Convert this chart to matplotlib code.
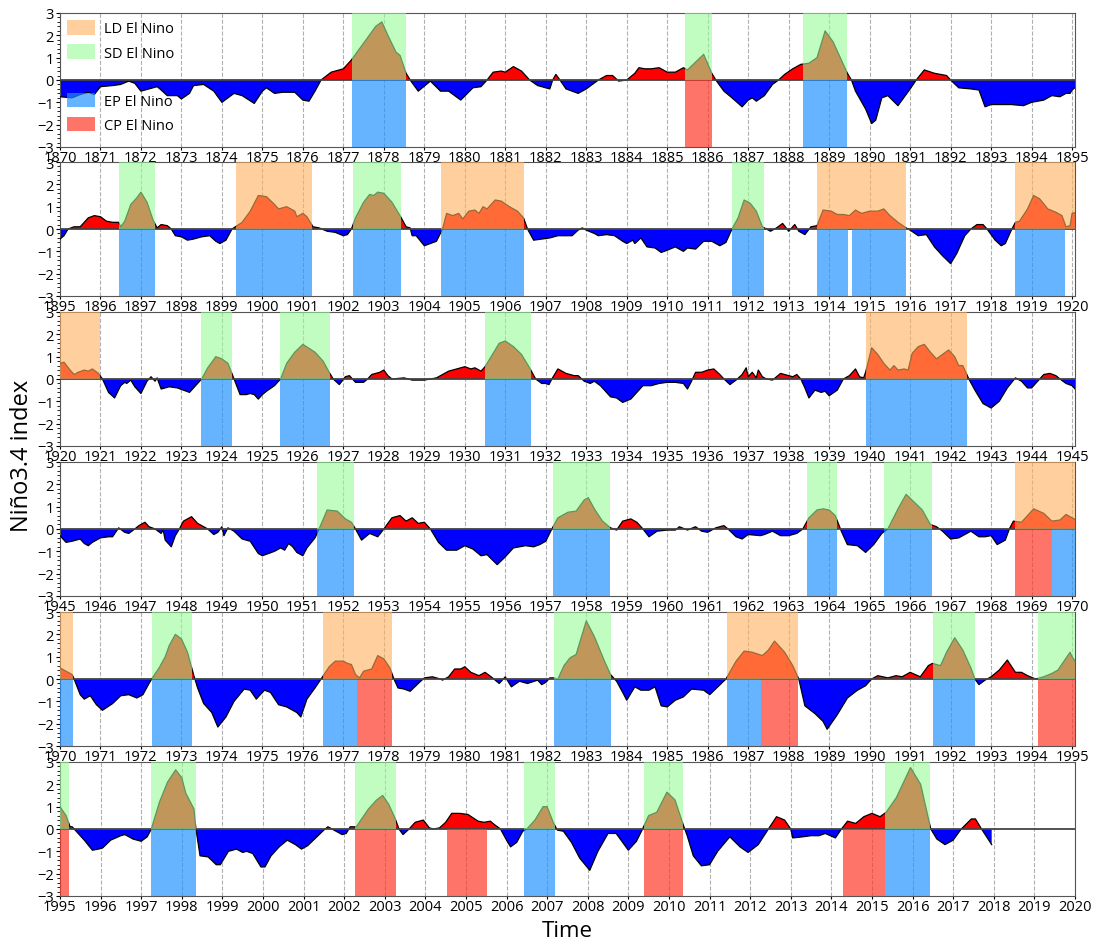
import numpy as np
import matplotlib.pyplot as plt
from matplotlib.patches import Patch
from matplotlib.ticker import MultipleLocator

plt.rcParams['font.family'] = ['Open Sans', 'DejaVu Sans']

# Niño3.4 index, (year, value) pairs, one list per 25-year row
nino_1870 = [
    (1870.0, -0.75), (1870.3, -0.8), (1870.5, -0.65), (1870.7, -0.55), (1870.85, -0.65),
    (1871.0, -0.3), (1871.3, -0.25), (1871.5, -0.2), (1871.7, -0.05), (1871.85, -0.15),
    (1872.0, -0.5), (1872.2, -0.4), (1872.4, -0.3), (1872.5, -0.45), (1872.65, -0.7),
    (1872.9, -0.7), (1873.0, -0.85), (1873.2, -0.6), (1873.3, -0.25), (1873.55, -0.2),
    (1873.8, -0.5), (1874.0, -1.0), (1874.3, -0.6), (1874.5, -0.7), (1874.8, -1.05),
    (1875.0, -0.5), (1875.1, -0.35), (1875.3, -0.6), (1875.5, -0.55), (1875.8, -0.55),
    (1876.0, -0.9), (1876.15, -0.95), (1876.3, -0.5), (1876.45, 0.0), (1876.7, 0.35),
    (1877.0, 0.5), (1877.2, 0.9), (1877.4, 1.4), (1877.6, 1.9), (1877.8, 2.4),
    (1877.95, 2.6), (1878.1, 2.0), (1878.3, 1.25), (1878.4, 1.1), (1878.55, 0.3),
    (1878.65, 0.0), (1878.85, -0.5), (1879.05, -0.2), (1879.15, -0.05), (1879.4, -0.5),
    (1879.6, -0.5), (1879.9, -0.9), (1880.2, -0.35), (1880.4, -0.3), (1880.55, 0.0),
    (1880.7, 0.35), (1880.9, 0.4), (1881.0, 0.35), (1881.2, 0.6), (1881.4, 0.4),
    (1881.6, 0.0), (1881.8, -0.25), (1882.0, -0.35), (1882.1, -0.4), (1882.17, 0.0),
    (1882.25, 0.25), (1882.35, 0.0), (1882.5, -0.4), (1882.8, -0.6), (1883.0, -0.4),
    (1883.3, 0.0), (1883.5, 0.2), (1883.65, 0.2), (1883.8, -0.05), (1884.0, 0.0),
    (1884.2, 0.3), (1884.3, 0.55), (1884.45, 0.5), (1884.6, 0.5), (1884.8, 0.55),
    (1885.0, 0.35), (1885.2, 0.35), (1885.4, 0.55), (1885.5, 0.45), (1885.7, 0.8),
    (1885.9, 1.15), (1886.1, 0.3), (1886.2, 0.0), (1886.4, -0.5), (1886.6, -0.8),
    (1886.85, -1.2), (1887.0, -0.9), (1887.1, -0.8), (1887.2, -0.95), (1887.4, -0.7),
    (1887.6, -0.2), (1887.75, 0.0), (1887.9, 0.25), (1888.1, 0.5), (1888.3, 0.7),
    (1888.5, 0.75), (1888.7, 1.0), (1888.9, 2.2), (1889.1, 1.7), (1889.3, 0.9),
    (1889.45, 0.3), (1889.55, 0.0), (1889.65, -0.5), (1889.9, -1.3), (1890.05, -1.95),
    (1890.15, -1.8), (1890.3, -0.8), (1890.45, -0.7), (1890.7, -1.15), (1891.0, -0.4),
    (1891.15, 0.0), (1891.35, 0.45), (1891.6, 0.3), (1891.9, 0.2), (1892.0, 0.0),
    (1892.2, -0.35), (1892.5, -0.4), (1892.7, -0.45), (1892.85, -1.2), (1893.0, -1.1),
    (1893.3, -1.1), (1893.5, -1.1), (1893.8, -1.15), (1894.0, -1.0), (1894.3, -0.9),
    (1894.5, -0.7), (1894.7, -0.75), (1894.85, -0.6), (1894.95, -0.6),
]
nino_1895 = [
    (1895.0, -0.45), (1895.1, -0.3), (1895.2, 0.0), (1895.35, 0.1), (1895.5, 0.1),
    (1895.7, 0.5), (1895.85, 0.6), (1896.0, 0.55), (1896.15, 0.35), (1896.3, 0.3),
    (1896.45, 0.3), (1896.5, 0.1), (1896.6, 0.35), (1896.75, 1.1), (1896.9, 1.4),
    (1897.0, 1.65), (1897.15, 1.2), (1897.3, 0.4), (1897.4, 0.05), (1897.5, 0.2),
    (1897.65, 0.15), (1897.75, 0.0), (1897.85, -0.3), (1898.0, -0.35), (1898.15, -0.5),
    (1898.3, -0.45), (1898.5, -0.35), (1898.7, -0.3), (1898.85, -0.55), (1898.95, -0.65),
    (1899.1, -0.5), (1899.25, 0.0), (1899.5, 0.3), (1899.7, 0.8), (1899.9, 1.5),
    (1900.1, 1.45), (1900.3, 1.1), (1900.4, 0.9), (1900.6, 1.0), (1900.8, 0.8),
    (1900.85, 0.55), (1901.0, 0.7), (1901.1, 0.55), (1901.25, 0.1), (1901.4, 0.05),
    (1901.6, -0.1), (1901.8, -0.15), (1902.0, -0.3), (1902.1, -0.25), (1902.2, 0.0),
    (1902.3, 0.5), (1902.5, 1.2), (1902.65, 1.55), (1902.75, 1.5), (1902.85, 1.65),
    (1903.0, 1.6), (1903.2, 1.2), (1903.4, 0.6), (1903.55, 0.1), (1903.65, 0.05),
    (1903.7, -0.3), (1903.8, -0.3), (1904.0, -0.75), (1904.15, -0.65), (1904.3, -0.55),
    (1904.45, 0.0), (1904.55, 0.7), (1904.7, 0.6), (1904.85, 0.7), (1904.95, 0.45),
    (1905.1, 0.8), (1905.25, 0.85), (1905.35, 0.7), (1905.45, 1.0), (1905.55, 0.9),
    (1905.65, 1.1), (1905.75, 1.3), (1905.9, 1.25), (1906.1, 1.0), (1906.3, 0.8),
    (1906.45, 0.5), (1906.55, 0.0), (1906.7, -0.5), (1906.9, -0.45), (1907.1, -0.4),
    (1907.3, -0.3), (1907.5, -0.3), (1907.65, -0.3), (1907.8, -0.05), (1907.9, 0.05),
    (1908.0, -0.05), (1908.2, -0.2), (1908.3, -0.3), (1908.5, -0.25), (1908.7, -0.3),
    (1908.9, -0.55), (1909.0, -0.65), (1909.15, -0.5), (1909.2, -0.65), (1909.35, -0.4),
    (1909.5, -0.8), (1909.7, -0.85), (1909.85, -1.05), (1910.0, -0.95), (1910.2, -0.8),
    (1910.4, -1.0), (1910.5, -0.85), (1910.7, -0.9), (1910.9, -0.55), (1911.1, -0.55),
    (1911.3, -0.75), (1911.45, -0.6), (1911.6, 0.0), (1911.75, 0.5), (1911.9, 1.3),
    (1912.05, 1.15), (1912.2, 0.8), (1912.35, 0.1), (1912.45, 0.0), (1912.55, -0.1),
    (1912.7, 0.05), (1912.85, 0.25), (1913.0, -0.1), (1913.15, 0.2), (1913.25, -0.1),
    (1913.4, -0.25), (1913.55, 0.1), (1913.7, 0.15), (1913.85, 0.85), (1914.05, 0.8),
    (1914.2, 0.65), (1914.35, 0.65), (1914.5, 0.6), (1914.65, 0.85), (1914.8, 0.7),
    (1915.0, 0.8), (1915.2, 0.8), (1915.35, 0.9), (1915.5, 0.6), (1915.7, 0.3),
    (1915.9, 0.05), (1916.0, -0.05), (1916.2, -0.3), (1916.4, -0.25), (1916.6, -0.8),
    (1916.8, -1.2), (1917.0, -1.55), (1917.15, -1.1), (1917.35, -0.3), (1917.5, 0.0),
    (1917.65, 0.2), (1917.8, 0.2), (1917.9, 0.0), (1918.1, -0.5), (1918.25, -0.75),
    (1918.35, -0.65), (1918.5, -0.05), (1918.6, 0.3), (1918.7, 0.35), (1918.9, 0.9),
    (1919.05, 1.5), (1919.2, 1.35), (1919.4, 0.9), (1919.6, 0.75), (1919.75, 0.6),
    (1919.85, 0.1), (1919.95, 0.15),
]
nino_1920 = [
    (1920.0, 0.7), (1920.1, 0.75), (1920.25, 0.4), (1920.35, 0.2), (1920.45, 0.3),
    (1920.6, 0.4), (1920.7, 0.35), (1920.8, 0.45), (1920.95, 0.25), (1921.05, 0.0),
    (1921.2, -0.6), (1921.35, -0.85), (1921.5, -0.3), (1921.6, -0.15), (1921.65, -0.2),
    (1921.75, -0.05), (1921.85, -0.35), (1922.0, -0.65), (1922.15, -0.1), (1922.25, 0.1),
    (1922.35, -0.1), (1922.4, 0.05), (1922.5, -0.45), (1922.7, -0.35), (1922.9, -0.4),
    (1923.05, -0.5), (1923.2, -0.6), (1923.35, -0.3), (1923.5, 0.0), (1923.65, 0.5),
    (1923.85, 1.0), (1924.0, 0.9), (1924.15, 0.7), (1924.3, 0.0), (1924.45, -0.7),
    (1924.6, -0.7), (1924.7, -0.65), (1924.8, -0.7), (1924.9, -0.9), (1925.0, -0.7),
    (1925.1, -0.55), (1925.3, -0.3), (1925.45, 0.0), (1925.6, 0.7), (1925.8, 1.2),
    (1926.0, 1.55), (1926.3, 1.2), (1926.5, 0.8), (1926.65, 0.3), (1926.75, 0.0),
    (1926.9, -0.25), (1927.05, 0.1), (1927.15, 0.15), (1927.3, -0.15), (1927.5, -0.15),
    (1927.6, 0.0), (1927.7, 0.2), (1927.9, 0.3), (1928.0, 0.4), (1928.1, 0.15),
    (1928.2, 0.0), (1928.5, 0.05), (1928.7, -0.05), (1929.0, -0.05), (1929.3, 0.05),
    (1929.6, 0.35), (1929.9, 0.5), (1930.0, 0.55), (1930.15, 0.45), (1930.25, 0.5),
    (1930.4, 0.35), (1930.5, 0.55), (1930.65, 1.0), (1930.85, 1.6), (1931.0, 1.7),
    (1931.2, 1.45), (1931.4, 1.1), (1931.6, 0.5), (1931.75, 0.0), (1931.9, -0.2),
    (1932.0, -0.2), (1932.08, -0.25), (1932.15, 0.0), (1932.3, 0.45), (1932.5, 0.25),
    (1932.7, 0.15), (1932.8, 0.15), (1932.95, -0.1), (1933.1, -0.2), (1933.2, -0.1),
    (1933.35, -0.3), (1933.5, -0.6), (1933.6, -0.8), (1933.75, -0.85), (1933.9, -1.05),
    (1934.1, -0.9), (1934.25, -0.6), (1934.4, -0.3), (1934.6, -0.3), (1934.8, -0.2),
    (1935.0, -0.15), (1935.2, -0.15), (1935.4, -0.2), (1935.5, -0.45), (1935.6, -0.1),
    (1935.7, 0.3), (1935.85, 0.3), (1936.0, 0.4), (1936.15, 0.45), (1936.3, 0.2),
    (1936.4, 0.0), (1936.55, -0.25), (1936.7, -0.05), (1936.85, 0.2), (1936.95, 0.5),
    (1937.0, 0.1), (1937.05, 0.2), (1937.1, 0.3), (1937.2, 0.05), (1937.25, 0.4),
    (1937.35, 0.1), (1937.45, 0.0), (1937.6, -0.05), (1937.7, 0.1), (1937.8, 0.25),
    (1937.9, 0.2), (1938.1, 0.1), (1938.2, 0.2), (1938.3, 0.0), (1938.4, -0.4),
    (1938.5, -0.85), (1938.65, -0.5), (1938.8, -0.6), (1938.9, -0.55), (1939.0, -0.75),
    (1939.2, -0.5), (1939.35, 0.0), (1939.5, 0.15), (1939.65, 0.45), (1939.75, 0.1),
    (1939.85, 0.05), (1939.9, 0.3), (1940.05, 1.4), (1940.2, 1.1), (1940.35, 0.7),
    (1940.5, 0.4), (1940.6, 0.6), (1940.7, 0.4), (1940.85, 0.45), (1940.95, 0.4),
    (1941.05, 1.15), (1941.2, 1.45), (1941.35, 1.55), (1941.5, 1.2), (1941.65, 0.9),
    (1941.8, 1.1), (1941.95, 1.3), (1942.1, 1.0), (1942.2, 0.6), (1942.3, 0.6),
    (1942.45, 0.0), (1942.6, -0.5), (1942.8, -1.1), (1943.0, -1.3), (1943.2, -1.0),
    (1943.4, -0.4), (1943.6, 0.05), (1943.75, -0.1), (1943.9, -0.4), (1944.0, -0.4),
    (1944.2, 0.0), (1944.3, 0.2), (1944.45, 0.25), (1944.6, 0.15), (1944.7, 0.0),
    (1944.85, -0.2),
]
nino_1945 = [
    (1945.0, -0.3), (1945.15, -0.6), (1945.3, -0.55), (1945.5, -0.45), (1945.6, -0.65),
    (1945.7, -0.75), (1945.8, -0.6), (1946.0, -0.4), (1946.2, -0.35), (1946.3, -0.35),
    (1946.45, 0.05), (1946.6, -0.15), (1946.7, -0.2), (1946.85, 0.0), (1946.95, 0.15),
    (1947.1, 0.3), (1947.2, 0.1), (1947.35, 0.0), (1947.5, -0.2), (1947.55, -0.05),
    (1947.6, -0.5), (1947.75, -0.8), (1947.85, -0.3), (1947.95, 0.0), (1948.05, 0.35),
    (1948.25, 0.55), (1948.4, 0.25), (1948.55, 0.1), (1948.65, 0.0), (1948.8, -0.25),
    (1948.9, -0.15), (1949.0, 0.1), (1949.05, -0.3), (1949.15, 0.05), (1949.3, -0.1),
    (1949.5, -0.45), (1949.7, -0.55), (1949.9, -1.1), (1950.0, -1.2), (1950.3, -1.0),
    (1950.45, -0.85), (1950.55, -0.95), (1950.65, -0.65), (1950.75, -0.8), (1950.85, -1.05),
    (1951.0, -1.2), (1951.1, -0.85), (1951.3, -0.4), (1951.4, 0.0), (1951.6, 0.85),
    (1951.85, 0.8), (1952.05, 0.45), (1952.2, 0.3), (1952.3, 0.0), (1952.45, -0.5),
    (1952.65, -0.2), (1952.85, -0.35), (1953.0, 0.0), (1953.2, 0.5), (1953.4, 0.6),
    (1953.55, 0.35), (1953.7, 0.5), (1953.85, 0.25), (1954.0, 0.3), (1954.15, 0.0),
    (1954.35, -0.6), (1954.55, -0.95), (1954.8, -0.95), (1955.0, -0.75), (1955.2, -0.9),
    (1955.4, -1.2), (1955.55, -1.15), (1955.8, -1.6), (1956.0, -1.25), (1956.2, -0.85),
    (1956.5, -0.75), (1956.7, -0.8), (1956.85, -0.7), (1957.0, -0.55), (1957.15, 0.0),
    (1957.3, 0.5), (1957.55, 0.75), (1957.75, 0.8), (1957.95, 1.3), (1958.05, 1.4),
    (1958.2, 0.9), (1958.4, 0.35), (1958.6, 0.05), (1958.75, -0.05), (1958.9, 0.35),
    (1959.1, 0.45), (1959.25, 0.3), (1959.4, 0.0), (1959.55, -0.35), (1959.75, -0.1),
    (1960.0, -0.05), (1960.2, -0.05), (1960.3, 0.1), (1960.5, -0.05), (1960.7, 0.1),
    (1960.85, -0.1), (1961.0, -0.15), (1961.2, 0.05), (1961.4, 0.15), (1961.5, 0.0),
    (1961.7, -0.35), (1961.85, -0.45), (1962.0, -0.25), (1962.3, -0.3), (1962.4, -0.25),
    (1962.6, -0.1), (1962.8, -0.3), (1963.0, -0.3), (1963.2, -0.2), (1963.35, 0.0),
    (1963.5, 0.5), (1963.7, 0.85), (1963.85, 0.9), (1964.0, 0.85), (1964.15, 0.6),
    (1964.3, -0.1), (1964.45, -0.7), (1964.7, -0.75), (1964.9, -1.05), (1965.1, -0.7),
    (1965.3, -0.2), (1965.45, 0.0), (1965.7, 0.9), (1965.9, 1.55), (1966.1, 1.2),
    (1966.3, 0.85), (1966.5, 0.2), (1966.65, 0.1), (1966.8, -0.1), (1967.0, -0.45),
    (1967.2, -0.4), (1967.5, -0.1), (1967.7, -0.35), (1967.85, -0.35), (1968.0, -0.3),
    (1968.15, -0.7), (1968.35, -0.5), (1968.45, 0.0), (1968.55, 0.35), (1968.75, 0.3),
    (1969.05, 0.9), (1969.3, 0.7), (1969.5, 0.35), (1969.7, 0.4), (1969.85, 0.65),
]
nino_1970 = [
    (1970.0, 0.5), (1970.15, 0.35), (1970.3, 0.2), (1970.35, 0.0), (1970.5, -0.7),
    (1970.6, -0.9), (1970.75, -0.75), (1970.9, -1.15), (1971.05, -1.4), (1971.3, -1.1),
    (1971.5, -0.75), (1971.7, -0.7), (1971.9, -0.85), (1972.05, -0.7), (1972.2, -0.2),
    (1972.3, 0.1), (1972.45, 0.5), (1972.6, 1.0), (1972.7, 1.5), (1972.85, 2.0),
    (1973.0, 1.8), (1973.15, 1.2), (1973.3, 0.2), (1973.4, -0.4), (1973.55, -1.1),
    (1973.75, -1.5), (1973.9, -2.15), (1974.1, -1.7), (1974.3, -1.0), (1974.55, -0.45),
    (1974.7, -0.5), (1974.85, -0.9), (1975.05, -0.5), (1975.2, -0.6), (1975.4, -1.15),
    (1975.6, -1.25), (1975.85, -1.5), (1975.95, -1.7), (1976.1, -0.9), (1976.3, -0.4),
    (1976.45, 0.0), (1976.65, 0.55), (1976.8, 0.8), (1977.0, 0.8), (1977.1, 0.7),
    (1977.2, 0.65), (1977.3, 0.2), (1977.4, 0.05), (1977.5, 0.35), (1977.7, 0.45),
    (1977.85, 1.05), (1978.0, 0.9), (1978.15, 0.5), (1978.25, 0.0), (1978.35, -0.4),
    (1978.5, -0.45), (1978.65, -0.55), (1978.85, -0.2), (1979.0, 0.05), (1979.2, 0.1),
    (1979.4, 0.0), (1979.45, -0.05), (1979.6, 0.1), (1979.75, 0.45), (1979.9, 0.45),
    (1980.0, 0.55), (1980.15, 0.3), (1980.35, 0.15), (1980.5, 0.3), (1980.65, 0.1),
    (1980.75, -0.05), (1980.85, -0.2), (1981.0, 0.1), (1981.05, -0.05), (1981.15, -0.35),
    (1981.35, -0.1), (1981.55, -0.2), (1981.8, -0.05), (1981.9, -0.25), (1982.0, -0.15),
    (1982.1, 0.05), (1982.2, 0.05), (1982.3, 0.0), (1982.45, 0.6), (1982.6, 0.95),
    (1982.75, 1.1), (1983.0, 2.6), (1983.2, 1.9), (1983.45, 0.8), (1983.6, 0.2),
    (1983.75, -0.1), (1983.9, -0.6), (1984.0, -0.95), (1984.2, -0.35), (1984.35, -0.5),
    (1984.55, -0.5), (1984.7, -0.35), (1984.85, -1.2), (1985.0, -1.25), (1985.2, -0.95),
    (1985.4, -0.8), (1985.6, -0.45), (1985.9, -0.5), (1986.05, -0.7), (1986.25, -0.35),
    (1986.45, 0.0), (1986.7, 0.8), (1986.9, 1.25), (1987.1, 1.2), (1987.35, 1.05),
    (1987.5, 1.3), (1987.65, 1.7), (1987.9, 1.2), (1988.1, 0.6), (1988.25, 0.0),
    (1988.4, -1.2), (1988.65, -1.55), (1988.85, -1.9), (1988.95, -2.25), (1989.2, -1.6),
    (1989.45, -0.85), (1989.7, -0.5), (1989.9, -0.3), (1990.05, 0.0), (1990.2, 0.15),
    (1990.45, 0.05), (1990.65, 0.15), (1990.8, 0.1), (1991.0, 0.3), (1991.25, 0.1),
    (1991.45, 0.6), (1991.55, 0.7), (1991.75, 0.6), (1991.9, 1.2), (1992.1, 1.85),
    (1992.3, 1.3), (1992.5, 0.5), (1992.6, 0.0), (1992.7, -0.25), (1992.85, -0.05),
    (1993.0, 0.1), (1993.2, 0.4), (1993.4, 0.85), (1993.6, 0.3), (1993.75, 0.3),
    (1993.9, 0.15), (1994.1, 0.0), (1994.3, 0.1), (1994.5, 0.25), (1994.65, 0.4),
    (1994.8, 0.8), (1994.95, 1.2),
]
nino_1995 = [
    (1995.0, 1.0), (1995.15, 0.6), (1995.25, 0.1), (1995.3, 0.1), (1995.4, -0.1),
    (1995.6, -0.5), (1995.8, -0.95), (1995.95, -0.9), (1996.05, -0.85), (1996.25, -0.5),
    (1996.5, -0.3), (1996.6, -0.25), (1996.8, -0.45), (1997.0, -0.55), (1997.15, -0.35),
    (1997.25, 0.0), (1997.45, 1.2), (1997.65, 2.1), (1997.85, 2.65), (1998.0, 2.3),
    (1998.1, 1.6), (1998.3, 0.9), (1998.35, 0.0), (1998.45, -1.2), (1998.65, -1.25),
    (1998.85, -1.6), (1998.95, -1.6), (1999.15, -1.0), (1999.35, -0.9), (1999.5, -1.05),
    (1999.6, -1.0), (1999.75, -1.1), (1999.95, -1.7), (2000.05, -1.7), (2000.2, -1.2),
    (2000.4, -0.8), (2000.6, -0.5), (2000.8, -0.7), (2000.95, -0.9), (2001.1, -0.75),
    (2001.3, -0.4), (2001.5, -0.05), (2001.6, 0.1), (2001.75, -0.05), (2001.95, -0.25),
    (2002.05, -0.2), (2002.15, 0.1), (2002.3, 0.1), (2002.45, 0.5), (2002.6, 0.9),
    (2002.8, 1.3), (2002.95, 1.5), (2003.1, 1.1), (2003.25, 0.5), (2003.35, 0.0),
    (2003.45, -0.25), (2003.6, 0.0), (2003.75, 0.3), (2003.95, 0.4), (2004.1, 0.05),
    (2004.2, 0.0), (2004.35, 0.05), (2004.5, 0.3), (2004.65, 0.7), (2004.85, 0.7),
    (2005.05, 0.65), (2005.3, 0.35), (2005.45, 0.3), (2005.6, 0.35), (2005.7, 0.2),
    (2005.85, 0.0), (2006.0, -0.5), (2006.1, -0.8), (2006.25, -0.6), (2006.4, -0.1),
    (2006.5, 0.0), (2006.7, 0.4), (2006.9, 1.0), (2007.0, 1.0), (2007.15, 0.3),
    (2007.25, -0.05), (2007.4, -0.1), (2007.6, -0.6), (2007.8, -1.3), (2008.05, -1.85),
    (2008.25, -1.0), (2008.5, -0.2), (2008.7, -0.2), (2009.0, -0.95), (2009.2, -0.55),
    (2009.35, 0.0), (2009.5, 0.6), (2009.7, 0.75), (2009.95, 1.65), (2010.15, 1.3),
    (2010.35, 0.2), (2010.45, -0.3), (2010.6, -1.2), (2010.8, -1.65), (2011.0, -1.6),
    (2011.2, -1.0), (2011.5, -0.35), (2011.75, -0.8), (2011.95, -1.05), (2012.2, -0.7),
    (2012.45, 0.0), (2012.65, 0.55), (2012.85, 0.4), (2013.0, 0.0), (2013.05, -0.4),
    (2013.3, -0.35), (2013.5, -0.3), (2013.7, -0.3), (2013.85, -0.2), (2014.1, -0.4),
    (2014.25, 0.0), (2014.4, 0.35), (2014.6, 0.25), (2014.8, 0.55), (2015.0, 0.7),
    (2015.2, 0.55), (2015.35, 0.75), (2015.6, 1.4), (2015.95, 2.75), (2016.2, 2.0),
    (2016.45, 0.0), (2016.6, -0.45), (2016.8, -0.7), (2017.0, -0.5), (2017.2, 0.0),
    (2017.45, 0.45), (2017.55, 0.45), (2017.7, 0.0), (2017.95, -0.7),
]

# El Nino events as (start, end) in fractional years
ld_events = [(1899.34, 1901.23), (1904.42, 1906.45), (1913.69, 1915.9), (1918.6, 1921.0),
             (1939.91, 1942.41), (1968.58, 1970.33), (1976.5, 1978.19), (1986.47, 1988.23)]
sd_events = [(1877.22, 1878.54), (1885.45, 1886.11), (1888.35, 1889.45), (1896.45, 1897.35),
             (1902.24, 1903.43), (1911.59, 1912.4), (1923.49, 1924.26), (1925.44, 1926.68),
             (1930.49, 1931.64), (1951.34, 1952.27), (1957.18, 1958.59), (1963.45, 1964.19),
             (1965.36, 1966.55), (1972.27, 1973.26), (1982.21, 1983.6), (1991.56, 1992.6),
             (1994.17, 1995.23), (1997.25, 1998.35), (2002.27, 2003.27), (2006.43, 2007.2),
             (2009.38, 2010.34), (2015.33, 2016.44)]
ep_events = [(1877.22, 1878.54), (1888.35, 1889.45), (1896.45, 1897.35), (1899.34, 1901.23),
             (1902.24, 1903.43), (1904.42, 1906.45), (1911.59, 1912.4), (1913.69, 1914.46),
             (1914.56, 1915.9), (1918.6, 1919.83), (1923.49, 1924.26), (1925.44, 1926.68),
             (1930.49, 1931.64), (1939.91, 1942.41), (1951.34, 1952.27), (1957.18, 1958.59),
             (1963.45, 1964.19), (1965.36, 1966.55), (1969.5, 1970.33), (1972.27, 1973.26),
             (1976.5, 1977.34), (1982.21, 1983.6), (1986.47, 1987.32), (1991.56, 1992.6),
             (1997.25, 1998.35), (2006.43, 2007.2), (2015.33, 2016.44)]
cp_events = [(1885.45, 1886.11), (1968.58, 1969.5), (1977.34, 1978.19), (1987.32, 1988.23),
             (1994.17, 1995.23), (2002.27, 2003.27), (2004.54, 2005.51), (2009.38, 2010.34),
             (2014.29, 2015.33)]

row_starts = [1870, 1895, 1920, 1945, 1970, 1995]

series = nino_1870 + nino_1895 + nino_1920 + nino_1945 + nino_1970 + nino_1995
t = np.array([p[0] for p in series])
v = np.array([p[1] for p in series])

ld_color, sd_color = '#ffb25c', '#98fb98'
ep_color, cp_color = '#1e90ff', '#ff3322'
legend_kw = dict(frameon=False, fontsize=10.5, handlelength=1.9, handleheight=1.15,
                 labelspacing=0.55, handletextpad=0.6, borderpad=0.2)

fig = plt.figure(figsize=(11, 9.45), dpi=100)
bottoms = [0.8434, 0.6857, 0.5270, 0.3683, 0.2095, 0.0508]

for k, (y0, b) in enumerate(zip(row_starts, bottoms)):
    ax = fig.add_axes([0.0545, b, 0.9227, 0.1418])
    y1 = y0 + 25 if y0 == 1995 else y0 + 25.07

    ax.fill_between(t, v, 0, where=v >= 0, interpolate=True, color='red', lw=0, zorder=2)
    ax.fill_between(t, v, 0, where=v <= 0, interpolate=True, color='blue', lw=0, zorder=2)
    ax.plot(t, v, color='black', lw=0.9, zorder=3)
    ax.axhline(0, color='#444444', lw=1.3, zorder=3)

    for a, e in ld_events:
        ax.axvspan(a, e, ymin=0.5, ymax=1, color=ld_color, alpha=0.6, lw=0, zorder=4)
    for a, e in sd_events:
        ax.axvspan(a, e, ymin=0.5, ymax=1, color=sd_color, alpha=0.6, lw=0, zorder=4)
    for a, e in ep_events:
        ax.axvspan(a, e, ymin=0, ymax=0.5, color=ep_color, alpha=0.68, lw=0, zorder=4)
    for a, e in cp_events:
        ax.axvspan(a, e, ymin=0, ymax=0.5, color=cp_color, alpha=0.68, lw=0, zorder=4)

    ax.set_xlim(y0, y1)
    ax.set_ylim(-3, 3)
    ax.set_xticks(np.arange(y0, y0 + 26))
    ax.set_yticks(np.arange(-3, 4))
    ax.yaxis.set_minor_locator(MultipleLocator(0.2))
    ax.grid(axis='x', ls='--', color='#b0b0b0', lw=0.8, zorder=1)
    ax.tick_params(axis='x', labelsize=10.5, pad=0.5, length=2)
    ax.tick_params(axis='y', labelsize=10.5, pad=1.5, length=3)
    ax.tick_params(axis='y', which='minor', length=2)
    for s in ax.spines.values():
        s.set_color('#555555')

    if k == 0:
        top = ax.legend(handles=[Patch(color=ld_color, alpha=0.6, lw=0, label='LD El Nino'),
                                 Patch(color=sd_color, alpha=0.6, lw=0, label='SD El Nino')],
                        loc='upper left', borderaxespad=0.3, **legend_kw)
        ax.add_artist(top)
        ax.legend(handles=[Patch(color=ep_color, alpha=0.68, lw=0, label='EP El Nino'),
                           Patch(color=cp_color, alpha=0.68, lw=0, label='CP El Nino')],
                  loc='lower left', bbox_to_anchor=(0, 0.05), borderaxespad=0.3, **legend_kw)

fig.text(0.02, 0.518, 'Niño3.4 index', rotation=90, ha='center', va='center', fontsize=17)
fig.text(0.516, 0.014, 'Time', ha='center', va='center', fontsize=16)

fig.savefig('out.png', dpi=100)
